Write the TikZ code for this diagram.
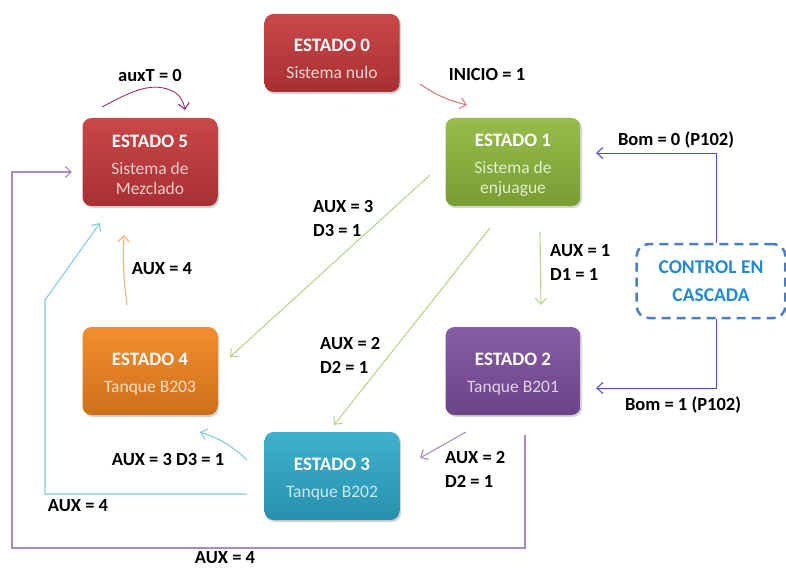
\documentclass[tikz,border=0pt]{standalone}
\usepackage{fontspec}
\setmainfont{Carlito}
\usetikzlibrary{arrows.meta,shadows,calc}
\definecolor{cred}{HTML}{C5383A}
\definecolor{cgreen}{HTML}{8DB83C}
\definecolor{cpurple}{HTML}{7D4F9E}
\definecolor{corange}{HTML}{F2841E}
\definecolor{ccyan}{HTML}{2EAACB}
\definecolor{cblue}{HTML}{4A7EC0}
\definecolor{lred}{HTML}{D67F82}
\definecolor{lgreen}{HTML}{B8D68A}
\definecolor{lpurple}{HTML}{A98BC6}
\definecolor{lcyan}{HTML}{7FCBE0}
\definecolor{lorange}{HTML}{F5B27A}
\definecolor{lmagenta}{HTML}{9A2F6E}
\definecolor{lblue}{HTML}{4F4FCF}
\tikzset{
  statebox/.style={rounded corners=9pt, minimum width=135pt, minimum height=88pt,
    inner sep=0pt, text=white, drop shadow={opacity=0.35,shadow xshift=1.5pt,shadow yshift=-2pt},
    top color=#1!92!white, bottom color=#1!85!black},
  lbl/.style={font=\fontsize{18.5}{21}\selectfont\bfseries, inner sep=0pt, text=black},
  conn/.style={line width=1.1pt, draw=#1, -{Straight Barb[length=6pt,width=11pt,line width=1.1pt]}},
}
\newcommand{\stt}[4][6pt]{\parbox{134pt}{\vspace*{#1}\centering\fontsize{19}{21}\selectfont\bfseries #2\par\vspace{7pt}%
  \fontsize{17.5}{20}\selectfont\mdseries\color{#3}#4\par}}
\newcommand{\lbltwo}[2]{\parbox{90pt}{\raggedright #1\par\vspace{3pt}#2\par}}
\begin{document}
\begin{tikzpicture}[x=1pt,y=-1pt]
\useasboundingbox (0,0) rectangle (786,569);
\node[statebox=cred, minimum height=78pt] (e0) at (332,53) {\stt[12pt]{ESTADO 0}{white!80!cred}{Sistema nulo}};
\node[statebox=cgreen] (e1) at (513,162) {\stt{ESTADO 1}{white!75!cgreen}{Sistema de\\enjuague}};
\node[statebox=cred] (e5) at (150,162) {\stt{ESTADO 5}{white!75!cred}{Sistema de\\Mezclado}};
\node[statebox=corange] (e4) at (150,371) {\stt{ESTADO 4}{white!75!corange}{Tanque B203}};
\node[statebox=cpurple] (e2) at (513,371) {\stt{ESTADO 2}{white!75!cpurple}{Tanque B201}};
\node[statebox=ccyan] (e3) at (332,476) {\stt{ESTADO 3}{white!75!ccyan}{Tanque B202}};
\node[draw=cblue, line width=2.5pt, dash pattern=on 9pt off 6pt, rounded corners=12pt,
  minimum width=144pt, minimum height=74pt, text=ccyan!80!blue] (ctl) at (711,281)
  {\parbox{142pt}{\centering\fontsize{19.5}{28}\selectfont\bfseries CONTROL EN\\CASCADA}};

% coordinates
\coordinate (a0s) at (420,84); \coordinate (a0e) at (467,105);
\coordinate (s5a) at (102,107); \coordinate (s5b) at (185,110);
\coordinate (c1a) at (716,153); \coordinate (c1e) at (596,153);
\coordinate (c2a) at (716,388); \coordinate (c2e) at (596,388);
\coordinate (g12s) at (540,232); \coordinate (g12e) at (541,305);
\coordinate (g14s) at (430,175); \coordinate (g14e) at (230,357);
\coordinate (g13s) at (490,228); \coordinate (g13e) at (334,425);
\coordinate (p23s) at (466,432); \coordinate (p23e) at (420,458);
\coordinate (c34s) at (247,460); \coordinate (c34e) at (200,432);
\coordinate (c35s) at (247,494); \coordinate (c35a) at (45,494); \coordinate (c35b) at (45,300); \coordinate (c35e) at (100,223);
\coordinate (o45s) at (127,305); \coordinate (o45e) at (124,235);
\coordinate (p25s) at (525,435); \coordinate (p25a) at (525,548); \coordinate (p25b) at (12,548); \coordinate (p25c) at (12,172); \coordinate (p25e) at (72,172);

\draw[conn=lred] (a0s) to[bend right=10] (a0e);
\draw[conn=lmagenta, line width=0.9pt] (s5a) .. controls (130,92) and (150,82) .. (170,90) to[out=-20,in=100] (s5b);
\draw[conn=lblue, line width=0.9pt] (ctl.north -| c1a) -- (c1a) -- (c1e);
\draw[conn=lblue, line width=0.9pt] (ctl.south -| c2a) -- (c2a) -- (c2e);
\draw[conn=lgreen] (g12s) -- (g12e);
\draw[conn=lgreen] (g14s) -- (g14e);
\draw[conn=lgreen] (g13s) -- (g13e);
\draw[conn=lpurple] (p23s) -- (p23e);
\draw[conn=lcyan] (c34s) to[bend right=12] (c34e);
\draw[conn=lcyan] (c35s) -- (c35a) -- (c35b) -- (c35e);
\draw[conn=lorange] (o45s) to[bend left=5] (o45e);
\draw[conn=lpurple] (p25s) -- (p25a) -- (p25b) -- (p25c) -- (p25e);

% labels
\node[lbl] (l01) at (487,75) {INICIO = 1};
\node[lbl] (l55) at (150,76) {auxT = 0};
\node[lbl] (lc1) at (676,140) {Bom = 0 (P102)};
\node[lbl] (lc2) at (683,405) {Bom = 1 (P102)};
\node[lbl, anchor=west] (l12) at (550,262) {\lbltwo{AUX = 1}{D1 = 1}};
\node[lbl, anchor=west] (l14) at (313,218) {\lbltwo{AUX = 3}{D3 = 1}};
\node[lbl, anchor=west] (l13) at (320,355) {\lbltwo{AUX = 2}{D2 = 1}};
\node[lbl, anchor=west] (l23) at (445,469) {\lbltwo{AUX = 2}{D2 = 1}};
\node[lbl] (l34) at (168,459) {AUX = 3 D3 = 1};
\node[lbl] (l35) at (78,506) {AUX = 4};
\node[lbl] (l45) at (162,269) {AUX = 4};
\node[lbl] (l25) at (225,558) {AUX = 4};
\end{tikzpicture}
\end{document}
